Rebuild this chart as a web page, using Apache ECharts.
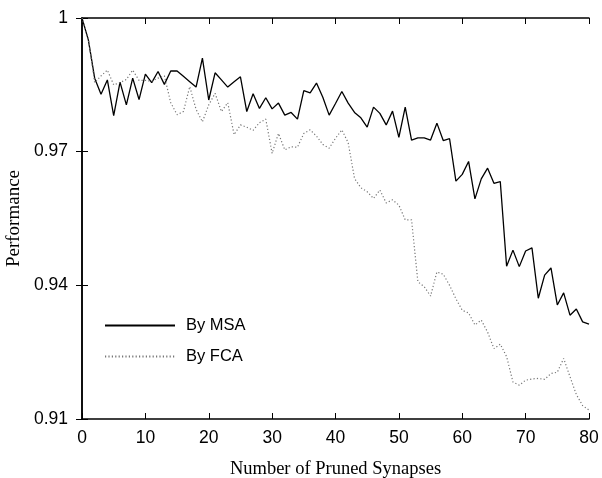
<!DOCTYPE html>
<html><head><meta charset="utf-8">
<script src="https://cdn.jsdelivr.net/npm/echarts@6/dist/echarts.min.js"></script>
<style>html,body{margin:0;padding:0;background:#fff}#c{width:602px;height:478px}</style>
</head><body><div id="c"></div>
<script>
const xValues = Array.from({length: 81}, (_, i) => i);
const msa = [1.0,0.9951,0.9865,0.9829,0.9861,0.9781,0.9856,0.9805,0.9865,0.9817,
0.9874,0.9855,0.9880,0.9851,0.9881,0.9881,0.9869,0.9857,0.9845,0.9910,
0.9816,0.9877,0.9861,0.9845,0.9857,0.9868,0.9790,0.9830,0.9797,0.9821,
0.9796,0.9809,0.9782,0.9788,0.9773,0.9837,0.9832,0.9854,0.9822,0.9782,
0.9808,0.9835,0.9809,0.9788,0.9776,0.9755,0.9800,0.9786,0.9760,0.9791,
0.9732,0.9800,0.9726,0.9731,0.9731,0.9726,0.9764,0.9725,0.9729,0.9634,
0.9649,0.9678,0.9594,0.9639,0.9663,0.9629,0.9633,0.9443,0.9479,0.9442,
0.9477,0.9484,0.9371,0.9423,0.9439,0.9356,0.9383,0.9333,0.9347,0.9318,0.9313];
const fca = [1.0,0.9953,0.9855,0.9870,0.9883,0.9850,0.9855,0.9862,0.9883,0.9860,
0.9860,0.9858,0.9865,0.9870,0.9810,0.9783,0.9790,0.9846,0.9795,0.9767,
0.9805,0.9831,0.9790,0.9810,0.9738,0.9760,0.9755,0.9748,0.9765,0.9773,
0.9696,0.9741,0.9704,0.9711,0.9710,0.9741,0.9749,0.9735,0.9716,0.9708,
0.9730,0.9749,0.9720,0.9640,0.9619,0.9610,0.9595,0.9614,0.9585,0.9592,
0.9580,0.9547,0.9547,0.9408,0.9397,0.9376,0.9430,0.9425,0.9400,0.9370,
0.9344,0.9338,0.9311,0.9322,0.9295,0.9258,0.9268,0.9240,0.9183,0.9176,
0.9187,0.9190,0.9191,0.9189,0.9202,0.9205,0.9236,0.9195,0.9155,0.9130,0.9120];
const seriesNames = ['By MSA', 'By FCA'];
const xTitle = 'Number of Pruned Synapses';
const yTitle = 'Performance';

const chart = echarts.init(document.getElementById('c'), null, {renderer: 'canvas'});
const sans = 'Liberation Sans, Arial, sans-serif';
const serif = 'Liberation Serif, Times New Roman, serif';
const axisLine = {show: true, lineStyle: {color: '#000', width: 1.5}};
const tick = {show: true, inside: true, length: 6, lineStyle: {color: '#000', width: 1}};
chart.setOption({
  animation: false,
  backgroundColor: '#fff',
  grid: {left: 82, right: 13, top: 18, bottom: 59, containLabel: false, outerBoundsMode: 'none'},
  legend: {
    orient: 'vertical', left: 99, top: 312, itemWidth: 70, itemHeight: 10, itemGap: 14,
    itemStyle: {opacity: 0},
    textStyle: {fontFamily: sans, fontSize: 16.5, color: '#000', padding: [0,0,0,6]},
    data: seriesNames
  },
  xAxis: [{
    type: 'value', min: 0, max: 80, interval: 10,
    name: xTitle, nameLocation: 'middle', nameGap: 41,
    nameTextStyle: {fontFamily: serif, fontSize: 18.5, color: '#000'},
    axisLine: axisLine, axisTick: tick, splitLine: {show: false},
    axisLabel: {fontFamily: sans, fontSize: 17.5, color: '#000', margin: 10}
  }, {
    type: 'value', min: 0, max: 80, interval: 10, position: 'top',
    axisLine: axisLine, axisTick: tick, splitLine: {show: false}, axisLabel: {show: false}
  }],
  yAxis: [{
    type: 'value', min: 0.91, max: 1, interval: 0.03,
    name: yTitle, nameLocation: 'middle', nameGap: 58, nameRotate: 90, nameMoveOverlap: false,
    nameTextStyle: {fontFamily: serif, fontSize: 19, color: '#000'},
    axisLine: axisLine, axisTick: tick, splitLine: {show: false},
    axisLabel: {fontFamily: sans, fontSize: 17.5, color: '#000', margin: 14,
      formatter: v => String(+(+v).toFixed(2))}
  }, {
    type: 'value', min: 0.91, max: 1, interval: 0.03, position: 'right',
    axisLine: axisLine, axisTick: tick, splitLine: {show: false}, axisLabel: {show: false}
  }],
  series: [{
    name: seriesNames[0], type: 'line', symbol: 'none', xAxisIndex: 0, yAxisIndex: 0,
    data: xValues.map((x, i) => [x, msa[i]]),
    lineStyle: {color: '#000', width: 1.3}, itemStyle: {color: '#000'}
  }, {
    name: seriesNames[1], type: 'line', symbol: 'none', xAxisIndex: 0, yAxisIndex: 0,
    data: xValues.map((x, i) => [x, fca[i]]),
    lineStyle: {color: '#777', width: 1.2, type: [1.2, 2.2]}, itemStyle: {color: '#777'}
  }]
});
</script></body></html>
